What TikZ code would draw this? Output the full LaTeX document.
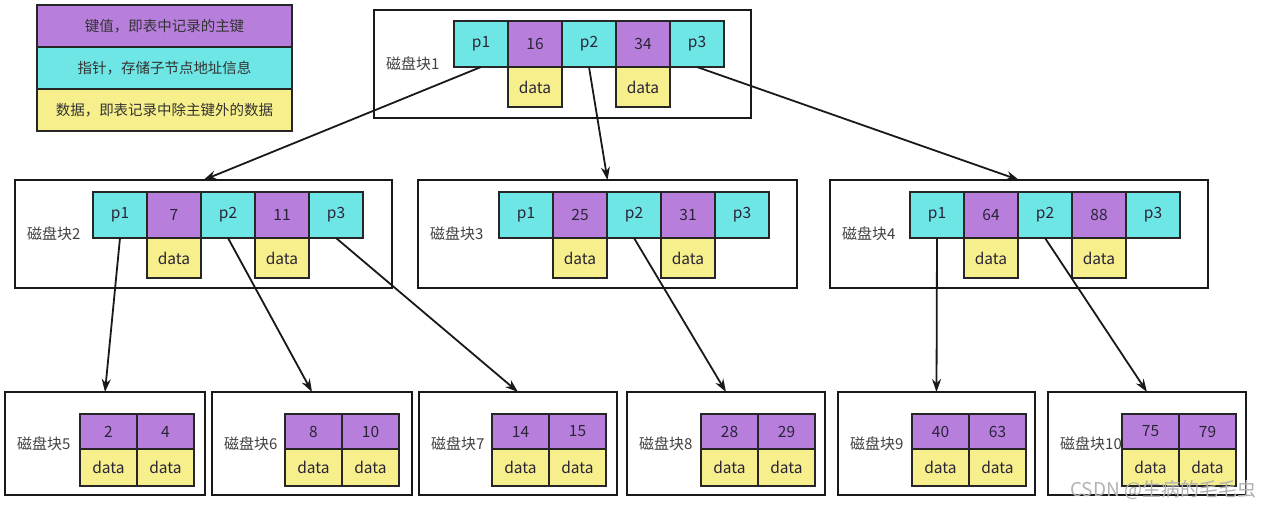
\documentclass[tikz,border=0pt]{standalone}
\usepackage{fontspec}
\setmainfont{Noto Sans CJK SC}
\usetikzlibrary{positioning,arrows.meta}

\definecolor{keyfill}{HTML}{B77FDB}
\definecolor{ptrfill}{HTML}{6FE6E6}
\definecolor{datfill}{HTML}{F6EF8C}
\definecolor{celltext}{HTML}{2B2438}

\tikzset{
  frame/.style={draw, line width=2pt, black!90, outer sep=0pt, anchor=north west},
  cell/.style={draw, line width=1.8pt, draw=black!85, outer sep=0pt, inner sep=0pt, text=celltext,
    font=\fontsize{15.5}{17}\selectfont},
  ptr/.style={cell, fill=ptrfill, minimum width=54, minimum height=46},
  key/.style={cell, fill=keyfill, minimum width=54, minimum height=46},
  dat/.style={cell, fill=datfill, minimum width=54, minimum height=40},
  leafkey/.style={cell, fill=keyfill, minimum width=57, minimum height=35},
  leafdat/.style={cell, fill=datfill, minimum width=57, minimum height=37},
  lbl/.style={anchor=west, inner sep=0pt, text=black!75, font=\fontsize{15}{17}\selectfont},
  legend/.style={draw, line width=1.8pt, draw=black!85, outer sep=0pt, minimum width=255, minimum height=42,
    text=black!80, font=\fontsize{14.5}{16}\selectfont},
  arr/.style={-{Stealth[length=13pt, width=9pt]}, line width=1.8pt, black!90},
}

\begin{document}
\begin{tikzpicture}[x=1pt, y=-1pt]
  \useasboundingbox (0,0) rectangle (1280,508);

  % legend
  \node [legend, fill=keyfill, anchor=north west] (lgkey) at (37,5) {键值，即表中记录的主键};
  \node [legend, fill=ptrfill, below=0pt of lgkey] (lgptr) {指针，存储子节点地址信息};
  \node [legend, fill=datfill, below=0pt of lgptr] (lgdat) {数据，即表记录中除主键外的数据};

  % disk block 1
  \node [frame, minimum width=377, minimum height=108] (blk1) at (374,10) {};
  \node [lbl, right=12pt of blk1.west] {磁盘块1};
  \node [ptr, anchor=north west] (b1p1) at (454,21) {p1};
  \node [key, right=0pt of b1p1] (b1k1) {16};
  \node [ptr, right=0pt of b1k1] (b1p2) {p2};
  \node [key, right=0pt of b1p2] (b1k2) {34};
  \node [ptr, right=0pt of b1k2] (b1p3) {p3};
  \node [dat, below=0pt of b1k1] {data};
  \node [dat, below=0pt of b1k2] {data};

  % disk block 2
  \node [frame, minimum width=377, minimum height=108] (blk2) at (15,180) {};
  \node [lbl, right=12pt of blk2.west] {磁盘块2};
  \node [ptr, anchor=north west] (b2p1) at (93,192) {p1};
  \node [key, right=0pt of b2p1] (b2k1) {7};
  \node [ptr, right=0pt of b2k1] (b2p2) {p2};
  \node [key, right=0pt of b2p2] (b2k2) {11};
  \node [ptr, right=0pt of b2k2] (b2p3) {p3};
  \node [dat, below=0pt of b2k1] {data};
  \node [dat, below=0pt of b2k2] {data};

  % disk block 3
  \node [frame, minimum width=379, minimum height=108] (blk3) at (418,180) {};
  \node [lbl, right=12pt of blk3.west] {磁盘块3};
  \node [ptr, anchor=north west] (b3p1) at (499,192) {p1};
  \node [key, right=0pt of b3p1] (b3k1) {25};
  \node [ptr, right=0pt of b3k1] (b3p2) {p2};
  \node [key, right=0pt of b3p2] (b3k2) {31};
  \node [ptr, right=0pt of b3k2] (b3p3) {p3};
  \node [dat, below=0pt of b3k1] {data};
  \node [dat, below=0pt of b3k2] {data};

  % disk block 4
  \node [frame, minimum width=378, minimum height=108] (blk4) at (830,180) {};
  \node [lbl, right=12pt of blk4.west] {磁盘块4};
  \node [ptr, anchor=north west] (b4p1) at (910,192) {p1};
  \node [key, right=0pt of b4p1] (b4k1) {64};
  \node [ptr, right=0pt of b4k1] (b4p2) {p2};
  \node [key, right=0pt of b4p2] (b4k2) {88};
  \node [ptr, right=0pt of b4k2] (b4p3) {p3};
  \node [dat, below=0pt of b4k1] {data};
  \node [dat, below=0pt of b4k2] {data};

  % leaf blocks
  \node [frame, minimum width=200, minimum height=103] (blk5) at (5,392) {};
  \node [lbl, right=12pt of blk5.west] {磁盘块5};
  \node [leafkey, anchor=north west] (b5k1) at (80,414) {2};
  \node [leafkey, right=0pt of b5k1] (b5k2) {4};
  \node [leafdat, below=0pt of b5k1] {data};
  \node [leafdat, below=0pt of b5k2] {data};

  \node [frame, minimum width=200, minimum height=103] (blk6) at (212,392) {};
  \node [lbl, right=12pt of blk6.west] {磁盘块6};
  \node [leafkey, anchor=north west] (b6k1) at (285,414) {8};
  \node [leafkey, right=0pt of b6k1] (b6k2) {10};
  \node [leafdat, below=0pt of b6k1] {data};
  \node [leafdat, below=0pt of b6k2] {data};

  \node [frame, minimum width=198, minimum height=103] (blk7) at (419,392) {};
  \node [lbl, right=12pt of blk7.west] {磁盘块7};
  \node [leafkey, anchor=north west] (b7k1) at (492,414) {14};
  \node [leafkey, right=0pt of b7k1] (b7k2) {15};
  \node [leafdat, below=0pt of b7k1] {data};
  \node [leafdat, below=0pt of b7k2] {data};

  \node [frame, minimum width=198, minimum height=103] (blk8) at (627,392) {};
  \node [lbl, right=12pt of blk8.west] {磁盘块8};
  \node [leafkey, anchor=north west] (b8k1) at (701,414) {28};
  \node [leafkey, right=0pt of b8k1] (b8k2) {29};
  \node [leafdat, below=0pt of b8k1] {data};
  \node [leafdat, below=0pt of b8k2] {data};

  \node [frame, minimum width=197, minimum height=103] (blk9) at (838,392) {};
  \node [lbl, right=12pt of blk9.west] {磁盘块9};
  \node [leafkey, anchor=north west] (b9k1) at (912,414) {40};
  \node [leafkey, right=0pt of b9k1] (b9k2) {63};
  \node [leafdat, below=0pt of b9k1] {data};
  \node [leafdat, below=0pt of b9k2] {data};

  \node [frame, minimum width=198, minimum height=103] (blk10) at (1048,392) {};
  \node [leafkey, anchor=north west] (b10k1) at (1122,414) {75};
  \node [leafkey, right=0pt of b10k1] (b10k2) {79};
  \node [leafdat, below=0pt of b10k1] {data};
  \node [leafdat, below=0pt of b10k2] {data};
  \node [lbl, right=12pt of blk10.west] {磁盘块10};

  % pointers
  \draw [arr] (b1p1.south) -- (blk2.north);
  \draw [arr] (b1p2.south) -- (blk3.north);
  \draw [arr] (b1p3.south) -- (blk4.north);
  \draw [arr] (b2p1.south) -- (blk5.north);
  \draw [arr] (b2p2.south) -- (blk6.north);
  \draw [arr] (b2p3.south) -- (blk7.north);
  \draw [arr] (b3p2.south) -- (blk8.north);
  \draw [arr] (b4p1.south) -- (blk9.north);
  \draw [arr] (b4p2.south) -- (blk10.north);

  % watermark
  \node [anchor=west, inner sep=0pt, text=black!30, font=\fontsize{19}{21}\selectfont]
    (mark) at (1070,490) {CSDN @生病的毛毛虫};
\end{tikzpicture}
\end{document}
